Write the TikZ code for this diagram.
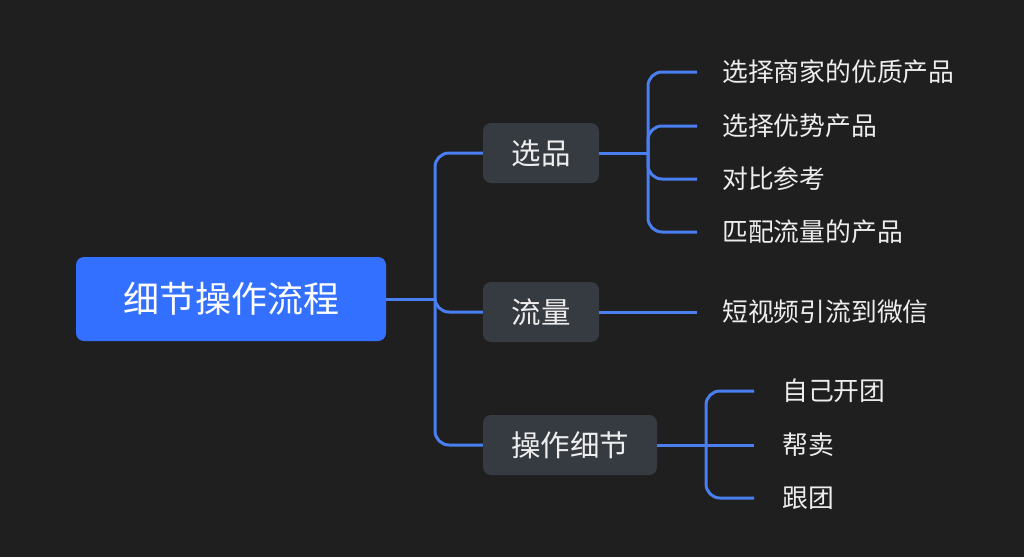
\documentclass[tikz,border=0pt]{standalone}
\usepackage{fontspec}
\setmainfont{Noto Sans CJK SC}
\definecolor{bg}{HTML}{1F1F1F}
\definecolor{rootblue}{HTML}{3370FF}
\definecolor{boxgray}{HTML}{363A41}
\definecolor{linkblue}{HTML}{4A7FF2}
\definecolor{txt}{HTML}{EDEDED}
\tikzset{
  rootbox/.style={fill=rootblue, rounded corners=8pt, minimum width=310pt, minimum height=84pt, inner sep=0pt, text=white, font=\fontsize{36pt}{40pt}\selectfont},
  midbox/.style={fill=boxgray, rounded corners=8pt, minimum height=60pt, inner sep=0pt, text=txt, font=\fontsize{29.5pt}{34pt}\selectfont},
  leaf/.style={anchor=west, inner xsep=25pt, inner ysep=0pt, text=txt, font=\fontsize{25.8pt}{30pt}\selectfont},
  conn/.style={draw=linkblue, line width=3pt, rounded corners=14pt}
}
\begin{document}
\begin{tikzpicture}[x=1pt,y=-1pt]
\useasboundingbox (0,0) rectangle (1024,557);
\fill[bg] (0,0) rectangle (1024,557);

\node[rootbox] (root) at (231,299) {细节操作流程};
\node[midbox, minimum width=116pt] (xp) at (541,153) {选品};
\node[midbox, minimum width=116pt] (ll) at (541,312) {流量};
\node[midbox, minimum width=174pt] (cz) at (570,445) {操作细节};

\node[leaf] (a1) at (697,72) {选择商家的优质产品};
\node[leaf] (a2) at (697,126) {选择优势产品};
\node[leaf] (a3) at (697,179) {对比参考};
\node[leaf] (a4) at (697,232) {匹配流量的产品};
\node[leaf] (b1) at (697,312) {短视频引流到微信};
\node[leaf, inner xsep=28pt] (c1) at (754,391) {自己开团};
\node[leaf, inner xsep=28pt] (c2) at (754,445) {帮卖};
\node[leaf, inner xsep=28pt] (c3) at (754,498) {跟团};

\coordinate (t) at (435,299);
\coordinate (j1) at (648,153);
\coordinate (j3) at (706,445);

\draw[conn] (root.east) -- (t);
\draw[conn] (t) |- (xp.west);
\draw[conn] (t) |- (ll.west);
\draw[conn] (t) |- (cz.west);

\draw[conn] (xp.east) -- (j1);
\draw[conn] (j1) |- (a1.west);
\draw[conn] (j1) |- (a2.west);
\draw[conn] (j1) |- (a3.west);
\draw[conn] (j1) |- (a4.west);

\draw[conn] (ll.east) -- (b1.west);

\draw[conn] (cz.east) -- (j3);
\draw[conn] (j3) |- (c1.west);
\draw[conn] (j3) -- (c2.west);
\draw[conn] (j3) |- (c3.west);
\end{tikzpicture}
\end{document}
